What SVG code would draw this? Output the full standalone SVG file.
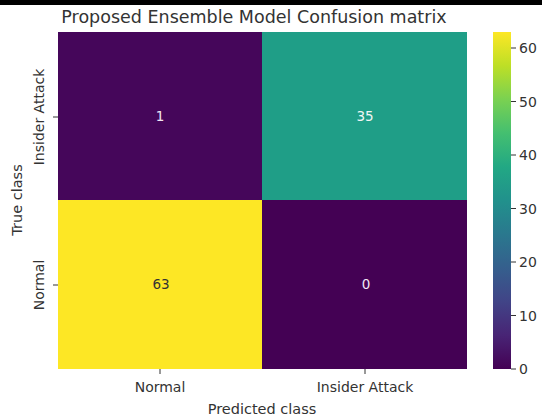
<svg xmlns="http://www.w3.org/2000/svg" width="542" height="419" viewBox="0 0 542 419">
<defs>
<linearGradient id="viridis" x1="0" y1="1" x2="0" y2="0">
<stop offset="0" stop-color="#440154"/>
<stop offset="0.1" stop-color="#482475"/>
<stop offset="0.2" stop-color="#414487"/>
<stop offset="0.3" stop-color="#355f8d"/>
<stop offset="0.4" stop-color="#2a788e"/>
<stop offset="0.5" stop-color="#21918c"/>
<stop offset="0.6" stop-color="#22a884"/>
<stop offset="0.7" stop-color="#44bf70"/>
<stop offset="0.8" stop-color="#7ad151"/>
<stop offset="0.9" stop-color="#bddf26"/>
<stop offset="1" stop-color="#fde725"/>
</linearGradient>
<style>
text{font-family:"DejaVu Sans",Verdana,sans-serif;fill:#333}
.tick{font-size:14px}
.lab{font-size:14.5px}
.ann{font-size:13.5px;text-anchor:middle}
.tk{stroke:#333;stroke-width:1}
</style>
</defs>
<rect width="542" height="419" fill="#fff"/>
<rect width="542" height="5" fill="#000"/>
<text x="254" y="23" text-anchor="middle" style="font-size:17.5px">Proposed Ensemble Model Confusion matrix</text>
<g id="cells">
<g id="cell-ia-normal"><rect x="58" y="32" width="204" height="168" fill="#45065a"/><text class="ann" x="160" y="121" style="fill:#f0e6f4">1</text></g>
<g id="cell-ia-ia"><rect x="262" y="32" width="205" height="168" fill="#1f9e87"/><text class="ann" x="365" y="121" style="fill:#f0f6f4">35</text></g>
<g id="cell-n-normal"><rect x="58" y="200" width="204" height="169" fill="#fde725"/><text class="ann" x="161" y="289" style="fill:#333">63</text></g>
<g id="cell-n-ia"><rect x="262" y="200" width="205" height="169" fill="#440154"/><text class="ann" x="366" y="289" style="fill:#f0e6f4">0</text></g>
</g>
<g id="axes">
<line class="tk" x1="53" y1="117" x2="58" y2="117"/>
<line class="tk" x1="53" y1="285" x2="58" y2="285"/>
<line class="tk" x1="160" y1="369" x2="160" y2="374"/>
<line class="tk" x1="365" y1="369" x2="365" y2="374"/>
<text class="tick" transform="translate(44,117) rotate(-90)" text-anchor="middle">Insider Attack</text>
<text class="tick" transform="translate(44,285) rotate(-90)" text-anchor="middle">Normal</text>
<text class="lab" transform="translate(22,200) rotate(-90)" text-anchor="middle">True class</text>
<text class="tick" x="160" y="392" text-anchor="middle">Normal</text>
<text class="tick" x="365" y="392" text-anchor="middle">Insider Attack</text>
<text class="lab" x="262" y="414" text-anchor="middle">Predicted class</text>
</g>
<g id="colorbar">
<rect x="493" y="32" width="18" height="337" fill="url(#viridis)"/>
<g class="tk">
<line x1="511" y1="369" x2="516" y2="369"/>
<line x1="511" y1="315.5" x2="516" y2="315.5"/>
<line x1="511" y1="262" x2="516" y2="262"/>
<line x1="511" y1="208.5" x2="516" y2="208.5"/>
<line x1="511" y1="155" x2="516" y2="155"/>
<line x1="511" y1="101.5" x2="516" y2="101.5"/>
<line x1="511" y1="48" x2="516" y2="48"/>
</g>
<text class="tick" x="519" y="374">0</text>
<text class="tick" x="519" y="320.5">10</text>
<text class="tick" x="519" y="267">20</text>
<text class="tick" x="519" y="213.5">30</text>
<text class="tick" x="519" y="160">40</text>
<text class="tick" x="519" y="106.5">50</text>
<text class="tick" x="519" y="53">60</text>
</g>
</svg>
